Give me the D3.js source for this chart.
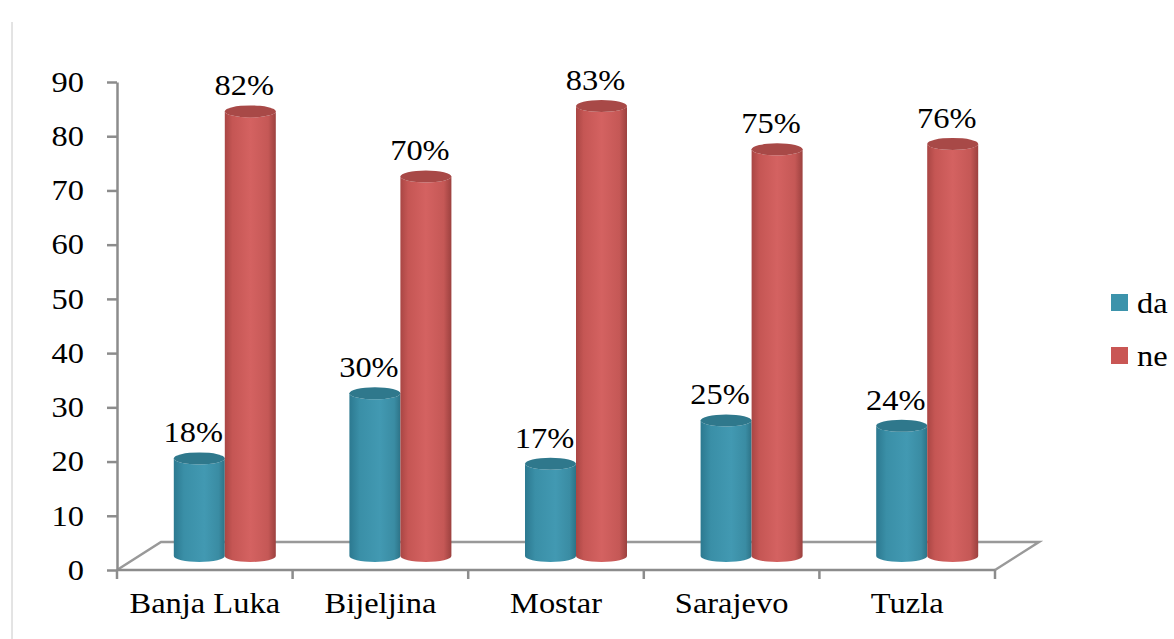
<!DOCTYPE html>
<html>
<head>
<meta charset="utf-8">
<script src="https://cdn.jsdelivr.net/npm/d3@7"></script>
<style>
  body { margin: 0; background: #fff; }
  svg text { font-family: "Liberation Serif", "Times New Roman", serif; fill: #000; }
</style>
</head>
<body>
<div id="chart"></div>
<script>
//chart data
const CATEGORIES = ['Banja Luka', 'Bijeljina', 'Mostar', 'Sarajevo', 'Tuzla'];
const SERIES = ['da', 'ne'];
const DA_VALUES = [18, 30, 17, 25, 24];
const NE_VALUES = [82, 70, 83, 75, 76];
const Y_TICKS = [0, 10, 20, 30, 40, 50, 60, 70, 80, 90];

//layout settings
const W = 1174, H = 639;
const LEFT = 117, RIGHT = 995, BOTTOM = 570, TOP = 82;
const DEPTH_X = 44, DEPTH_Y = 28; //3d floor depth
const FONT = 29, STRETCH = 1.12;    //text is a bit wide in the source
const COLORS = {da: '#3c93ab', ne: '#c95654'};

const svg = d3.select('#chart').append('svg')
    .attr('width', W).attr('height', H);

//gradients for the cylinders
const defs = svg.append('defs');
function addGradient(id, stops){
    let g = defs.append('linearGradient').attr('id', id)
        .attr('x1', '0%').attr('x2', '100%').attr('y1', '0%').attr('y2', '0%');
    stops.forEach(s => g.append('stop').attr('offset', s[0]).attr('stop-color', s[1]));
}
addGradient('grad-da', [[0, '#2c7990'], [0.2, '#3a8fa7'], [0.6, '#4299b2'], [0.88, '#3a8ca3'], [1, '#2d7387']]);
addGradient('grad-ne', [[0, '#a94644'], [0.15, '#c55654'], [0.5, '#d46261'], [0.85, '#c55856'], [1, '#9c413f']]);

//scales
const y = d3.scaleLinear().domain([0, 90]).range([BOTTOM, TOP]);
const x = d3.scaleBand().domain(CATEGORIES).range([LEFT, RIGHT]);
const xs = d3.scaleBand().domain(SERIES).range([-51, 51]);

//left border line
svg.append('line').attr('x1', 12).attr('x2', 12).attr('y1', 22).attr('y2', H)
    .attr('stroke', '#c8c8c8').attr('stroke-width', 1);

//3d floor
const floor = svg.append('g').attr('stroke', '#999').attr('stroke-width', 2.5).attr('fill', 'none');
floor.append('path')
    .attr('d', `M${LEFT},${BOTTOM} L${LEFT + DEPTH_X},${BOTTOM - DEPTH_Y} L${RIGHT + DEPTH_X},${BOTTOM - DEPTH_Y} L${RIGHT},${BOTTOM}`);

//y axis
const yAxis = d3.axisLeft(y).tickValues(Y_TICKS).tickSize(10).tickSizeOuter(0).tickPadding(0);
const gy = svg.append('g').attr('transform', `translate(${LEFT},0)`).call(yAxis);
gy.select('.domain').attr('stroke', '#8c8c8c').attr('stroke-width', 2.5);
gy.selectAll('line').attr('stroke', '#8c8c8c').attr('stroke-width', 2.5);
gy.selectAll('text')
    .attr('x', -33 / STRETCH).attr('dy', '0.32em')
    .attr('transform', `scale(${STRETCH},1)`)
    .style('font-size', FONT + 'px').style('font-family', '"Liberation Serif", serif');

//x axis (ticks at the category boundaries)
const gx = svg.append('g').attr('stroke', '#8c8c8c').attr('stroke-width', 2.5);
gx.append('line').attr('x1', LEFT).attr('x2', RIGHT).attr('y1', BOTTOM).attr('y2', BOTTOM);
const bounds = CATEGORIES.map(c => x(c)).concat([x(CATEGORIES[CATEGORIES.length - 1]) + x.bandwidth()]);
gx.selectAll('.xtick').data(bounds).enter().append('line')
    .attr('x1', d => d).attr('x2', d => d).attr('y1', BOTTOM).attr('y2', BOTTOM + 9);

svg.append('g').selectAll('text').data(CATEGORIES).enter().append('text')
    .attr('text-anchor', 'middle')
    .attr('transform', d => `translate(${x(d) + x.bandwidth() / 2},613) scale(${STRETCH},1)`)
    .style('font-size', FONT + 'px')
    .text(d => d);

//cylinders
const rows = [];
CATEGORIES.forEach((c, i) => {
    rows.push({cat: c, key: 'da', value: DA_VALUES[i]});
    rows.push({cat: c, key: 'ne', value: NE_VALUES[i]});
});

const RY = 6;
function barX(d){ return x(d.cat) + x.bandwidth() / 2 + 20 + xs(d.key); }
function barTop(d){ return y(d.value) - DEPTH_Y / 2; }
const barBase = y(0) - DEPTH_Y / 2;

const bars = svg.append('g');
rows.forEach(d => {
    let x0 = barX(d), w = xs.bandwidth(), rx = w / 2;
    let yt = barTop(d), yb = barBase;
    bars.append('path')
        .attr('d', `M${x0},${yt} L${x0},${yb} A${rx},${RY} 0 0 0 ${x0 + w},${yb} L${x0 + w},${yt} A${rx},${RY} 0 0 1 ${x0},${yt} Z`)
        .attr('fill', `url(#grad-${d.key})`);
    bars.append('ellipse')
        .attr('cx', x0 + rx).attr('cy', yt).attr('rx', rx).attr('ry', RY)
        .attr('fill', d.key === 'da' ? '#2f788c' : '#a84947');
});

//value labels
svg.append('g').selectAll('text').data(rows).enter().append('text')
    .attr('text-anchor', 'middle')
    .attr('transform', d => `translate(${barX(d) + xs.bandwidth() / 2 - 6},${barTop(d) - 16}) scale(${STRETCH},1)`)
    .style('font-size', FONT + 'px')
    .text(d => d.value + '%');

//legend
const legend = svg.append('g').attr('transform', 'translate(1111,294)');
SERIES.forEach((s, i) => {
    legend.append('rect').attr('x', 0).attr('y', i * 53).attr('width', 17).attr('height', 17)
        .attr('fill', COLORS[s]);
    legend.append('text')
        .attr('transform', `translate(26,${i * 53 + 19}) scale(${STRETCH},1)`)
        .style('font-size', FONT + 'px')
        .text(s);
});
</script>
</body>
</html>
